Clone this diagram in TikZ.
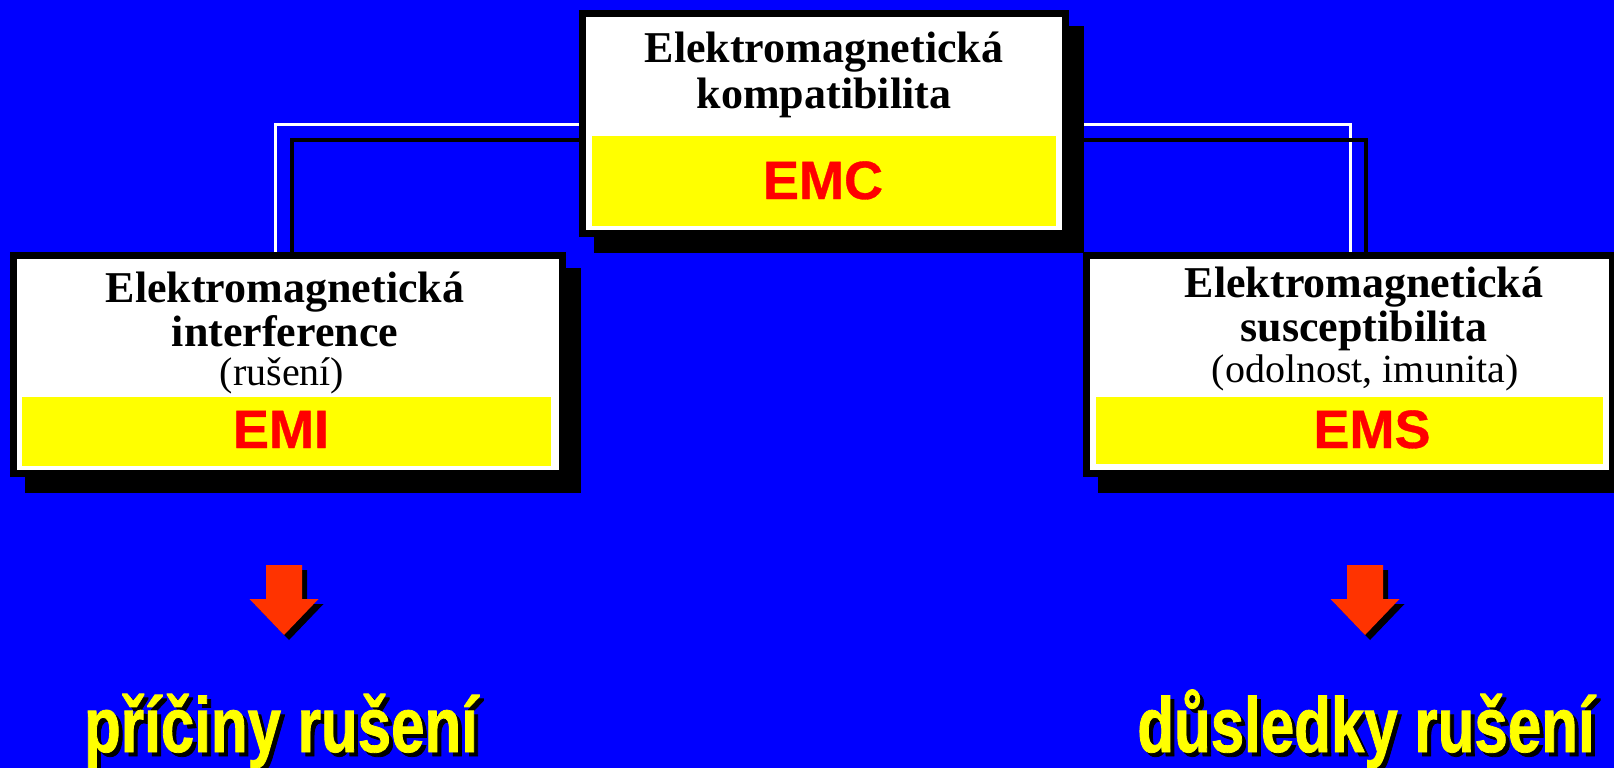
\documentclass[tikz,border=0pt]{standalone}
\usepackage{fontspec}
\setmainfont{Liberation Serif}
\newfontfamily\arialf[FakeBold=0.6]{Liberation Sans}
\newfontfamily\arialcond[FakeStretch=0.77,FakeBold=1]{Liberation Sans}
\usetikzlibrary{calc}
\definecolor{bgblue}{RGB}{0,0,255}
\definecolor{arrowred}{RGB}{255,51,0}
\definecolor{emyellow}{RGB}{255,255,0}
\definecolor{emred}{RGB}{255,0,0}
\pgfdeclarelayer{bglayer}
\pgfdeclarelayer{connlayer}
\pgfdeclarelayer{shadlayer}
\pgfsetlayers{bglayer,connlayer,shadlayer,main}
\tikzset{
  box/.style={draw=black, line width=7pt, fill=white, inner sep=0pt},
  band/.style={fill=emyellow, inner sep=0pt},
  headtxt/.style={font=\fontsize{44}{44}\selectfont\bfseries, inner sep=0pt, anchor=base},
  subtxt/.style={font=\fontsize{40}{40}\selectfont, inner sep=0pt, anchor=base},
  abbr/.style={font=\arialf\fontsize{54}{54}\selectfont\bfseries, text=emred, inner sep=0pt, anchor=base},
  wline/.style={draw=white, line width=3pt},
  kline/.style={draw=black, line width=3.7pt},
  shad/.style={fill=black},
  concl/.style={font=\arialcond\fontsize{78}{78}\selectfont\bfseries, text=emyellow, inner sep=0pt, anchor=base},
  conclshadow/.style={concl, text=black},
  downarrow/.pic={\path[pic actions] (-18,0) -- (18,0) -- (18,34) -- (34.5,34) -- (0,70) -- (-34.5,34) -- (-18,34) -- cycle;}
}
\begin{document}
\begin{tikzpicture}[x=1pt,y=-1pt]
\begin{pgfonlayer}{bglayer}
\fill[bgblue] (0,0) rectangle (1614,768);
\end{pgfonlayer}
\useasboundingbox (0,0) rectangle (1614,768);

% boxes
\node[box, minimum width=483pt, minimum height=220pt] (emc) at (824,123.5) {};
\node[box, minimum width=549pt, minimum height=218pt] (emi) at (288,364.5) {};
\node[box, minimum width=526pt, minimum height=218pt] (ems) at (1349.5,364.5) {};

% shadows
\begin{pgfonlayer}{shadlayer}
\foreach \b in {emc,emi,ems}
  \fill[shad] ($(\b.north west)+(15,16)$) rectangle ($(\b.south east)+(15,16)$);
\end{pgfonlayer}

% connectors
\coordinate (wL) at (275,124);
\coordinate (kL) at (292,140);
\coordinate (wR) at (1350,124);
\coordinate (kR) at (1366,140);
\begin{pgfonlayer}{connlayer}
\draw[wline] (emi.north -| wL) -- (wL) -- (emc.west |- wL);
\draw[kline] (emi.north -| kL) -- (kL) -- (emc.west |- kL);
\draw[wline] (ems.north -| wR) -- (wR) -- (emc.east |- wR);
\draw[kline] (ems.north -| kR) -- (kR) -- (emc.east |- kR);
\end{pgfonlayer}

% yellow bands
\node[band, minimum width=464pt, minimum height=90pt] (emcband) at (824,181) {};
\node[band, minimum width=529pt, minimum height=69pt] (emiband) at (286.5,431.5) {};
\node[band, minimum width=507pt, minimum height=67pt] (emsband) at (1349.5,430.5) {};

% texts
\node[headtxt] (emcl1) at (824,63) {Elektromagnetická};
\node[headtxt] (emcl2) at (824,108) {kompatibilita};
\node[abbr] (emct) at (823,199) {EMC};

\node[headtxt] (emil1) at (285,302) {Elektromagnetická};
\node[headtxt] (emil2) at (285,346) {interference};
\node[subtxt] (emil3) at (282,385) {(rušení)};
\node[abbr] (emit) at (281,448) {EMI};

\node[headtxt] (emsl1) at (1364,297) {Elektromagnetická};
\node[headtxt] (emsl2) at (1364,341) {susceptibilita};
\node[subtxt] (emsl3) at (1365,382) {(odolnost, imunita)};
\node[abbr] (emst) at (1372,448) {EMS};

% arrows
\pic[fill=black] at (289,570) {downarrow};
\pic[fill=arrowred] at (284,565) {downarrow};
\pic[fill=black] at (1370,570) {downarrow};
\pic[fill=arrowred] at (1365,565) {downarrow};

% conclusions
\node[conclshadow] (causesh) at (285,756) {příčiny rušení};
\node[concl] (cause) at (281,752) {příčiny rušení};
\node[conclshadow] (effectsh) at (1370,756) {důsledky rušení};
\node[concl] (effect) at (1366,752) {důsledky rušení};
\end{tikzpicture}
\end{document}
